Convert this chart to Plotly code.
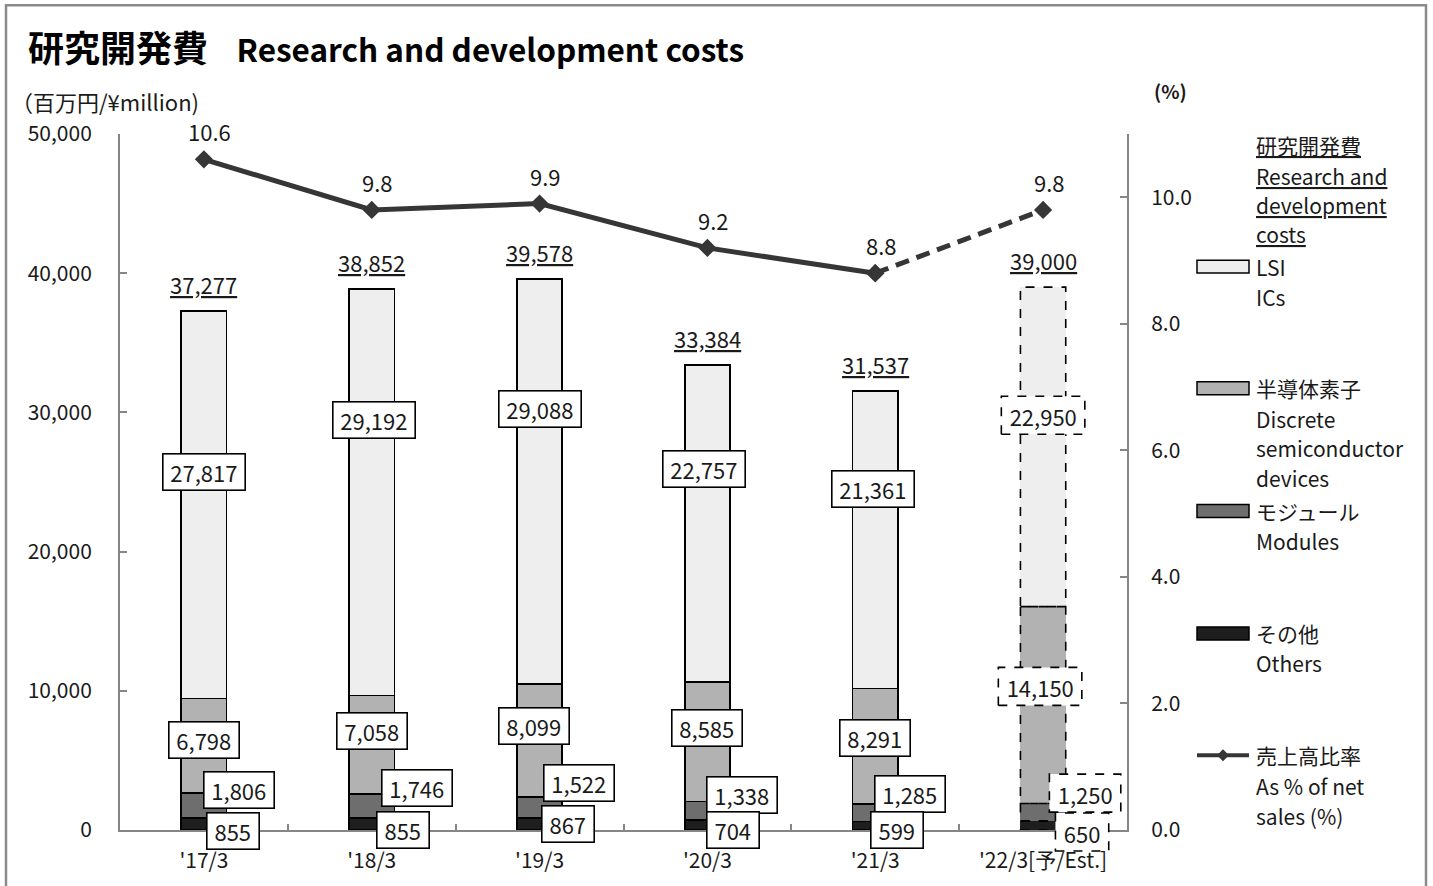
import plotly.graph_objects as go

# ---------------- data ----------------
categories = ["'17/3", "'18/3", "'19/3", "'20/3", "'21/3", "'22/3[予/Est.]"]
others = [855, 855, 867, 704, 599, 650]
modules = [1806, 1746, 1522, 1338, 1285, 1250]
discrete = [6798, 7058, 8099, 8585, 8291, 14150]
lsi = [27817, 29192, 29088, 22757, 21361, 22950]
totals = [37277, 38852, 39578, 33384, 31537, 39000]
ratio = [10.6, 9.8, 9.9, 9.2, 8.8, 9.8]

# ---------------- label layout (data-unit y, pixel shifts) ----------------
lsi_lab_y = [25716, 29441, 30229, 25931, 24498, 29799]
dis_lab_y = [6447, 7091, 7450, 7306, 6590, 10315]
mod_lab_y = [2865, 3008, 3367, 2507, 2579, 2650]
oth_lab_y = [0, 0, 430, 0, 0, 0]
oth_dy = [-1, 0, 0, 0, 0, -2]
lsi_dx = [0, 2, 0, -3, -2, 0]
dis_dx = [0, 0, -6, 0, 0, -3]
mod_dx = [35, 45, 39, 35, 35, 42]
oth_dx = [29, 31, 28, 26, 22, 39]

FONT = "Noto Sans CJK JP"
TXT = "#1a1a1a"
AX = "#868686"
L, R, T, B = 120, 1127, 134, 832
W, H = 1433, 886
YMAX = 50000


def px(x):
    return (x - L) / (R - L)


def py(y):
    return (B - y) / (B - T)


fig = go.Figure()
n = len(categories)
last = n - 1
BW = 0.27
seg = [
    ("その他", others, "#1e1e1e"),
    ("モジュール", modules, "#6e6e6e"),
    ("半導体素子", discrete, "#b2b2b2"),
    ("LSI", lsi, "#eeeeee"),
]
lw = [1.6] * (n - 1) + [0]
for name, vals, col in seg:
    fig.add_trace(go.Bar(
        x=categories, y=vals, name=name, width=BW,
        marker=dict(color=col, line=dict(color="#000000", width=lw)),
        showlegend=False, hoverinfo="skip"))

# dashed outlines of the estimate bar
cum = 0
for name, vals, col in seg:
    fig.add_shape(type="rect", xref="x", yref="y",
                  x0=last - BW / 2, x1=last + BW / 2, y0=cum, y1=cum + vals[last],
                  line=dict(color="#000000", width=1.6, dash="dash"), layer="above")
    cum += vals[last]

LINEC = "#363636"
fig.add_trace(go.Scatter(
    x=categories[:-1], y=ratio[:-1], yaxis="y2", mode="lines+markers",
    line=dict(color=LINEC, width=5), marker=dict(symbol="diamond", size=14, color=LINEC),
    showlegend=False, hoverinfo="skip"))
fig.add_trace(go.Scatter(
    x=categories[-2:], y=ratio[-2:], yaxis="y2", mode="lines+markers",
    line=dict(color=LINEC, width=5, dash="14px,8px"),
    marker=dict(symbol="diamond", size=14, color=LINEC),
    showlegend=False, hoverinfo="skip"))

ann = []
shapes_top = []
LF = dict(family=FONT, size=22, color=TXT)
BOXH = 29
PAD = 3


def text_w(text):
    d = sum(c.isdigit() for c in text)
    c = text.count(",")
    return 12.1 * d + 6 * c + 8


def box_label(i, y, dx, dy, val):
    text = f"{val:,}"
    tw = text_w(text)
    if i == last:
        bw = tw + 2 * PAD + 3
        bh = BOXH + 2 * PAD + 3
        # box for the estimate: dashed border, placed in paper space (not clipped)
        xc = (i + 0.5) / n
        shapes_top.append(dict(
            type="rect", xref="paper", yref="paper", xsizemode="pixel", ysizemode="pixel",
            xanchor=xc, yanchor=y / YMAX, x0=dx - bw / 2, x1=dx + bw / 2,
            y0=dy - bh / 2, y1=dy + bh / 2,
            fillcolor="white", line=dict(color="#000", width=1.6, dash="dash"), layer="above"))
        ann.append(dict(x=categories[i], y=y, xref="x", yref="y", text=text, showarrow=False,
                        xshift=dx, yshift=dy, font=LF, width=tw, height=BOXH))
    else:
        ann.append(dict(x=categories[i], y=y, xref="x", yref="y", text=text, showarrow=False,
                        xshift=dx, yshift=dy, font=LF, bgcolor="white", bordercolor="#000",
                        borderwidth=1.6, borderpad=PAD, width=tw, height=BOXH))


for i in range(n):
    box_label(i, lsi_lab_y[i], lsi_dx[i], 0, lsi[i])
    box_label(i, dis_lab_y[i], dis_dx[i], 0, discrete[i])
    box_label(i, mod_lab_y[i], mod_dx[i], 0, modules[i])
    box_label(i, oth_lab_y[i], oth_dx[i], oth_dy[i], others[i])
    ann.append(dict(x=categories[i], y=totals[i], xref="x", yref="y",
                    text=f"<u>{totals[i]:,}</u>", showarrow=False, yshift=27, font=LF))
    ann.append(dict(x=categories[i], y=ratio[i], xref="x", yref="y2",
                    text=f"{ratio[i]:.1f}", showarrow=False, yshift=28, xshift=6, font=LF))

for s in shapes_top:
    fig.add_shape(**s)

# title and axis captions
ann.append(dict(xref="paper", yref="paper", x=px(26), y=py(46), xanchor="left", yanchor="middle",
                text="<b><span style='font-size:36px'>研究開発費</span>    Research and development costs</b>",
                showarrow=False, font=dict(family=FONT, size=31.5, color="#000")))
ann.append(dict(xref="paper", yref="paper", x=px(9), y=py(101), xanchor="left", yanchor="middle",
                text="（百万円/¥million)", showarrow=False, font=dict(family=FONT, size=22, color=TXT)))
ann.append(dict(xref="paper", yref="paper", x=px(1170), y=py(90), xanchor="center", yanchor="middle",
                text="<b>(%)</b>", showarrow=False, font=dict(family=FONT, size=19, color=TXT)))

# legend (manual)
LX = px(1254)
legend_lines = [
    ("<u>研究開発費</u>", 145), ("<u>Research and</u>", 176), ("<u>development</u>", 205), ("<u>costs</u>", 234),
    ("LSI", 267), ("ICs", 297),
    ("半導体素子", 389), ("Discrete", 420), ("semiconductor", 449), ("devices", 479),
    ("モジュール", 512), ("Modules", 542),
    ("その他", 634), ("Others", 665),
    ("売上高比率", 757), ("As % of net", 788), ("sales (%)", 818),
]
for t, yy in legend_lines:
    ann.append(dict(xref="paper", yref="paper", x=LX, y=py(yy), xanchor="left", yanchor="middle",
                    text=t, showarrow=False, font=dict(family=FONT, size=21, color=TXT)))

for (name, vals, col), yc in zip(seg[::-1], [267, 389, 512, 635]):
    fig.add_shape(type="rect", xref="paper", yref="paper", x0=px(1197), x1=px(1249),
                  y0=py(yc + 6.5), y1=py(yc - 6.5), fillcolor=col,
                  line=dict(color="#000", width=1.5))
fig.add_shape(type="line", xref="paper", yref="paper", x0=px(1197), x1=px(1249),
              y0=py(757), y1=py(757), line=dict(color=LINEC, width=4))
dx0, dy0 = px(1223), py(757)
hx, hy = 6 / (R - L), 6 / (B - T)
fig.add_shape(type="path", xref="paper", yref="paper",
              path=f"M {dx0 - hx} {dy0} L {dx0} {dy0 + hy} L {dx0 + hx} {dy0} L {dx0} {dy0 - hy} Z",
              fillcolor=LINEC, line=dict(color=LINEC, width=0))

# outer frame
fig.add_shape(type="rect", xref="paper", yref="paper", x0=px(6), x1=px(1426), y0=py(905), y1=py(5),
              line=dict(color="#8a8a8a", width=2.5), fillcolor="rgba(0,0,0,0)", layer="below")

fig.update_layout(
    width=W, height=H,
    margin=dict(l=L, r=W - R, t=T, b=H - B),
    barmode="stack", bargap=0.73,
    plot_bgcolor="white", paper_bgcolor="white",
    font=dict(family=FONT, color=TXT),
    annotations=ann,
    xaxis=dict(showline=True, linecolor=AX, linewidth=2, ticks="inside", tickson="boundaries",
               ticklen=6, tickcolor=AX, tickwidth=1.5, tickfont=dict(family=FONT, size=21, color=TXT),
               ticklabelstandoff=11, showgrid=False, zeroline=False),
    yaxis=dict(range=[0, YMAX], dtick=10000, tickformat=",", showline=True, linecolor=AX, linewidth=2,
               ticks="inside", ticklen=7, tickcolor=AX, tickwidth=1.5, showgrid=False, zeroline=False,
               tickfont=dict(family=FONT, size=21, color=TXT), ticklabelstandoff=22),
    yaxis2=dict(range=[0, 11], tickvals=[0, 2, 4, 6, 8, 10], tickformat=".1f", overlaying="y", side="right",
                showline=True, linecolor=AX, linewidth=2, ticks="inside", ticklen=7, tickcolor=AX,
                tickwidth=1.5, showgrid=False, zeroline=False,
                tickfont=dict(family=FONT, size=21, color=TXT), ticklabelstandoff=18),
)

fig.write_html("out.html", config={"displayModeBar": False},
               post_script="document.body.style.margin='0px';document.body.style.overflow='hidden';")
